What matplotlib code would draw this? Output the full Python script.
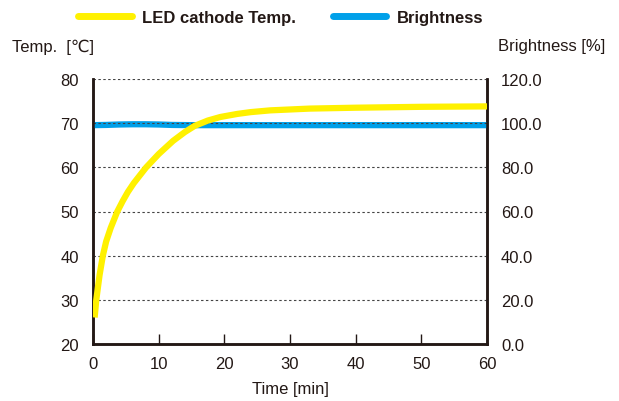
import matplotlib
matplotlib.use('Agg')
import matplotlib.pyplot as plt
from matplotlib.lines import Line2D

plt.rcParams['font.family'] = ['Liberation Sans', 'DejaVu Sans']

# LED cathode temperature [degC] vs time [min]
t_temp = [0.25, 0.5, 1.0, 1.5, 2.0, 2.7, 3.7, 4.5, 5.3, 6.2, 7.2, 8.1, 10, 12.2, 14, 15.5,
          17.5, 19.4, 22, 24, 27, 33, 40, 50, 60]
temp = [26, 30, 35.6, 40, 43.2, 46.3, 50, 52.3, 54.4, 56.4, 58.3, 60, 63.0, 66.0, 68.0, 69.4,
        70.6, 71.4, 72.1, 72.5, 72.9, 73.3, 73.5, 73.7, 73.8]

# brightness [%] vs time [min]
t_bri = [0, 2, 4, 6, 8, 10, 12, 15, 20, 30, 40, 50, 60]
bri = [99.1, 99.2, 99.4, 99.5, 99.5, 99.4, 99.2, 99.1, 99.1, 99.1, 99.1, 99.1, 99.1]

yellow = '#fff100'
blue = '#00a0e9'
ink = '#231815'

fig = plt.figure(figsize=(6.19, 4.02), dpi=100)
ax = fig.add_axes([93/619, 1-345/402, 394/619, 265/402])
ax2 = ax.twinx()

ax.plot(t_temp, temp, color=yellow, lw=4.5, solid_capstyle='butt', solid_joinstyle='round', zorder=3)
ax2.plot(t_bri, bri, color=blue, lw=4.5, solid_capstyle='butt', solid_joinstyle='round', zorder=3)

ax.set_xlim(0, 60)
ax.set_ylim(20, 80)
ax2.set_ylim(0, 120)
ax.set_xticks(range(0, 61, 10))
ax.set_yticks(range(20, 81, 10))
ax2.set_yticks(range(0, 121, 20))
ax2.set_yticklabels(['%.1f' % v for v in range(0, 121, 20)])

for v in range(30, 81, 10):
    ax.axhline(v, color='#444444', lw=0.8, ls=(0, (2.2, 2.2)), zorder=1)

for a in (ax, ax2):
    a.spines['top'].set_visible(False)
    for s in ('left', 'right', 'bottom'):
        a.spines[s].set_linewidth(1.8)
        a.spines[s].set_color(ink)
    a.tick_params(axis='y', length=0, labelsize=12, labelcolor=ink, pad=10)
ax.tick_params(axis='x', direction='in', length=7.5, width=1, color=ink, labelsize=12, labelcolor=ink, pad=9)
ax.set_zorder(2)
ax.patch.set_visible(False)

fig.text(12/619, 1-47/402, 'Temp.  [℃]', fontsize=12, color=ink, va='center', ha='left')
fig.text(605/619, 1-47/402, 'Brightness [%]', fontsize=12, color=ink, va='center', ha='right')
fig.text(290/619, 1-390/402, 'Time [min]', fontsize=12, color=ink, va='center', ha='center')

handles = [Line2D([], [], color=yellow, lw=5, solid_capstyle='round'),
           Line2D([], [], color=blue, lw=5, solid_capstyle='round')]
fig.legend(handles, ['LED cathode Temp.', 'Brightness'], loc='center', bbox_to_anchor=(281/619, 1-18/402),
           ncol=2, frameon=False, prop={'weight': 'bold', 'size': 12},
           handlelength=3.2, handletextpad=0.65, columnspacing=2.2, labelcolor=ink)

fig.savefig('out.png', dpi=100)
